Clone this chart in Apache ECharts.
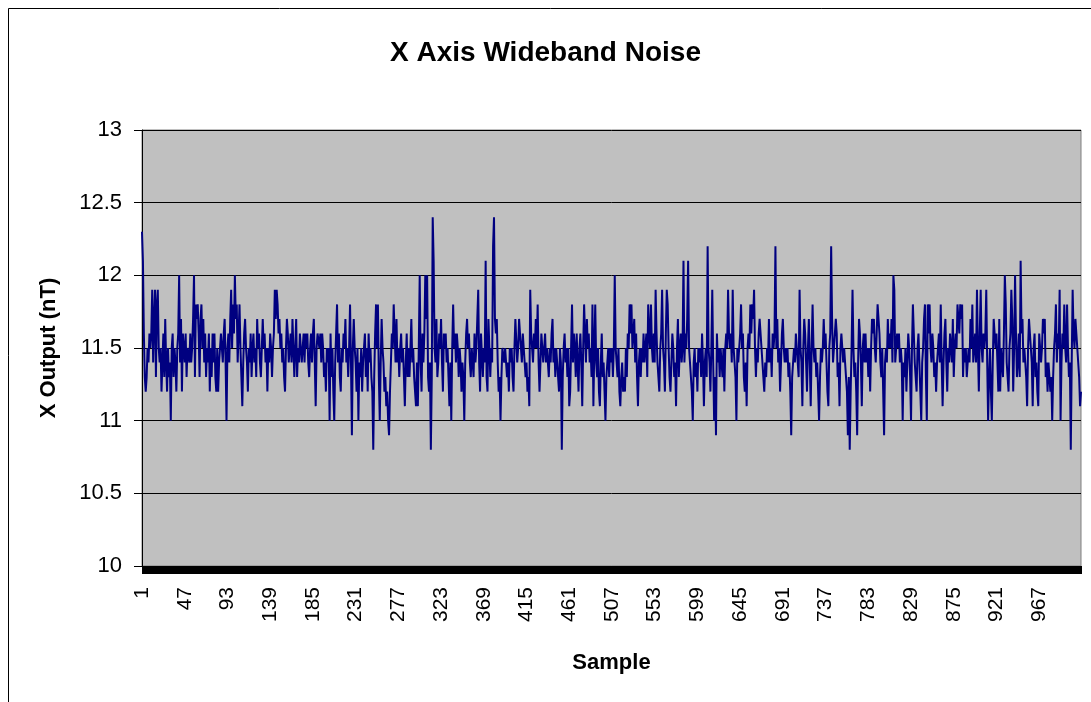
<!DOCTYPE html>
<html>
<head>
<meta charset="utf-8">
<script src="https://cdn.jsdelivr.net/npm/echarts@6/dist/echarts.min.js"></script>
<style>
html,body{margin:0;padding:0;background:#fff;}
#chart{width:1091px;height:702px;}
</style>
</head>
<body>
<div id="chart"></div>
<script>
// X output (nT), samples 1..1012
var seg1 = [12.3,12.1,11.6,11.3,11.2,11.3,11.5,11.4,11.6,11.5,
11.6,11.9,11.4,11.7,11.9,11.3,11.8,11.9,11.5,11.4,
11.5,11.2,11.4,11.6,11.3,11.7,11.4,11.2,11.5,11.3,
11.4,11.0,11.5,11.6,11.3,11.5,11.4,11.2,11.5,11.6,
12.0,11.4,11.7,11.2,11.6,11.5,11.4,11.6,11.3,11.5,
11.5,11.4,11.6,11.4,11.5,11.7,12.0,11.3,11.8,11.7,
11.8,11.6,11.3,11.7,11.8,11.5,11.7,11.4,11.6,11.3,
11.5,11.4,11.6,11.2,11.5,11.3,11.6,11.4,11.6,11.3,
11.2,11.5,11.2,11.4,11.5,11.6,11.5,11.4,11.6,11.7,
11.4,11.0,11.5,11.6,11.4,11.7,11.9,11.5,11.8,11.6];
var seg2 = [12.0,11.7,11.8,11.4,11.6,11.8,11.5,11.3,11.1,11.4,
11.6,11.7,11.5,11.4,11.2,11.5,11.4,11.6,11.3,11.5,
11.6,11.4,11.5,11.3,11.7,11.5,11.6,11.4,11.3,11.5,
11.7,11.5,11.6,11.4,11.5,11.2,11.5,11.4,11.6,11.5,
11.3,11.5,11.6,11.9,11.7,11.9,11.8,11.6,11.7,11.5,
11.6,11.4,11.5,11.3,11.2,11.5,11.7,11.6,11.4,11.5,
11.6,11.4,11.7,11.5,11.3,11.5,11.7,11.3,11.5,11.4,
11.6,11.6,11.4,11.5,11.6,11.4,11.6,11.5,11.6,11.4,
11.3,11.5,11.6,11.4,11.6,11.7,11.4,11.1,11.5,11.6,
11.6,11.5,11.6,11.4,11.6,11.5,11.3,11.4,11.2,11.5];
var seg3 = [11.4,11.5,11.0,11.6,11.3,11.5,11.2,11.0,11.4,11.6,
11.8,11.4,11.6,11.3,11.2,11.5,11.4,11.6,11.5,11.7,
11.4,11.5,11.3,11.5,11.8,11.4,10.9,11.5,11.7,11.5,
11.4,11.2,11.5,11.0,11.4,11.3,11.5,11.2,11.4,11.5,
11.6,11.3,11.5,11.2,11.6,11.4,11.5,11.3,11.2,10.8,
11.3,11.6,11.8,11.5,11.8,11.3,11.0,11.4,11.7,11.5,
11.4,11.2,11.3,11.1,11.2,11.0,10.9,11.2,11.4,11.6,
11.5,11.8,11.6,11.4,11.7,11.4,11.5,11.3,11.5,11.6,
11.4,11.5,11.3,11.1,11.4,11.6,11.3,11.5,11.3,11.5,
11.7,11.4,11.5,11.3,11.2,11.1,11.4,11.1,11.5,12.0];
var seg4 = [11.4,11.2,11.6,11.4,11.6,12.0,11.7,12.0,11.3,11.2,
11.4,10.8,11.3,12.4,12.1,11.5,11.4,11.7,11.3,11.4,
11.6,11.5,11.7,11.4,11.2,11.6,11.5,11.6,11.4,11.5,
11.3,11.1,11.4,11.0,11.5,11.8,11.5,11.6,11.4,11.6,
11.5,11.3,11.5,11.4,11.2,11.4,11.3,11.0,11.4,11.6,
11.7,11.5,11.6,11.4,11.3,11.5,11.4,11.3,11.6,11.4,
11.5,11.7,11.9,11.4,11.2,11.6,11.6,11.3,11.5,11.4,
12.1,11.3,11.2,11.7,11.5,11.3,11.5,11.4,12.2,12.4,
11.7,11.6,11.7,11.4,11.2,11.3,11.0,11.3,11.5,11.5,
11.4,11.5,11.5,11.3,11.4,11.2,11.5,11.4,11.5,11.3];
var seg5 = [11.2,11.5,11.7,11.7,11.4,11.5,11.7,11.6,11.5,11.4,
11.6,11.5,11.4,11.3,11.4,11.2,11.3,11.1,11.9,11.6,
11.5,11.4,11.6,11.5,11.7,11.5,11.8,11.4,11.2,11.4,
11.6,11.5,11.4,11.5,11.6,11.4,11.5,11.4,11.3,11.5,
11.4,11.6,11.7,11.4,11.5,11.3,11.5,11.4,11.3,11.2,
11.5,11.4,10.8,11.3,11.5,11.6,11.4,11.5,11.3,11.5,
11.1,11.2,11.5,11.8,11.4,11.6,11.5,11.3,11.6,11.4,
11.2,11.5,11.6,11.4,11.1,11.5,11.8,11.6,11.4,11.7,
11.5,11.6,11.4,11.5,11.3,11.8,11.1,11.5,11.8,11.4,
11.3,11.5,11.2,11.1,11.4,11.6,11.3,11.4,11.2,11.0];
var seg6 = [11.3,11.4,11.5,11.3,11.5,11.4,11.5,11.3,11.5,12.0,
11.5,11.4,11.3,11.5,11.2,11.1,11.3,11.4,11.2,11.3,
11.2,11.5,11.3,11.6,11.5,11.8,11.6,11.8,11.5,11.6,
11.7,11.4,11.6,11.3,11.1,11.4,11.5,11.3,11.5,11.4,
11.6,11.4,11.5,11.6,11.3,11.8,11.6,11.5,11.8,11.5,
11.4,11.6,11.4,11.9,11.6,11.4,11.3,11.2,11.5,11.6,
11.9,11.5,11.4,11.2,11.6,11.9,11.8,11.5,11.3,11.2,
11.4,11.6,11.5,11.3,11.4,11.1,11.5,11.7,11.3,11.5,
11.6,11.4,11.5,12.1,11.4,11.6,11.5,11.7,12.1,11.5,
11.4,11.3,11.2,11.0,11.4,11.5,11.3,11.4,11.2,11.5];
var seg7 = [11.4,11.5,11.3,11.6,11.4,11.1,11.4,11.5,11.3,12.2,
11.5,11.4,11.2,11.5,11.9,11.4,11.0,11.3,10.9,11.6,
11.4,11.5,11.3,11.5,11.4,11.3,11.5,11.2,11.5,11.6,
11.5,11.9,11.6,11.5,11.6,11.4,11.9,11.5,11.4,11.3,
11.0,11.5,11.4,11.5,11.6,11.8,11.5,11.6,11.3,11.2,
11.4,11.1,11.5,11.6,11.5,11.8,11.6,11.8,11.7,11.9,
11.5,11.3,11.5,11.4,11.6,11.7,11.7,11.5,11.4,11.3,
11.2,11.4,11.3,11.5,11.4,11.7,11.4,11.5,11.3,11.6,
11.5,11.6,12.2,11.5,11.7,11.4,11.5,11.2,11.4,11.6,
11.7,11.5,11.4,11.5,11.4,11.5,11.3,11.4,11.2,10.9];
var seg8 = [11.3,11.4,11.5,11.4,11.6,11.6,11.4,11.3,11.9,11.5,
11.4,11.1,11.5,11.7,11.6,11.4,11.2,11.5,11.7,11.4,
11.1,11.5,11.8,11.5,11.4,11.5,11.3,11.4,11.2,11.0,
11.3,11.5,11.4,11.5,11.7,11.5,11.6,11.4,11.2,11.1,
11.5,11.6,12.2,11.7,11.4,11.5,11.6,11.7,11.6,11.3,
11.4,11.1,11.5,11.6,11.6,11.4,11.5,11.4,11.3,11.2,
10.9,11.3,10.8,11.2,11.5,11.9,11.5,11.3,11.4,11.2,
10.9,11.4,11.7,11.6,11.4,11.1,11.5,11.6,11.4,11.6,
11.4,11.5,11.3,11.5,11.2,11.5,11.7,11.6,11.7,11.5,
11.4,11.6,11.8,11.7,11.6,11.4,11.3,11.5,11.2,10.9];
var seg9 = [11.4,11.5,11.4,11.7,11.5,11.6,11.5,11.7,11.4,12.0,
11.9,11.4,11.5,11.6,11.5,11.6,11.4,11.5,11.4,11.0,
11.4,11.3,11.5,11.2,11.4,11.6,11.5,11.3,11.0,11.5,
11.8,11.6,11.4,11.3,11.2,11.5,11.6,11.4,11.2,11.0,
11.4,11.5,11.7,11.8,11.3,11.0,11.8,11.6,11.8,11.5,
11.4,11.6,11.5,11.3,11.4,11.2,11.4,11.5,11.6,11.4,
11.8,11.4,11.1,11.4,11.6,11.7,11.4,11.2,11.5,11.4,
11.6,11.5,11.4,11.7,11.3,11.5,11.6,11.5,11.8,11.8,
11.6,11.8,11.7,11.8,11.3,11.5,11.4,11.5,11.3,11.4,
11.5,11.4,11.7,11.5,11.8,11.4,11.5,11.6,11.4,11.9];
var seg10 = [11.5,11.2,11.6,11.9,11.5,11.4,11.6,11.5,11.6,11.9,
11.4,11.0,11.3,11.5,11.2,11.0,11.4,11.7,11.6,11.5,
11.6,11.4,11.2,11.7,11.2,11.5,11.4,11.3,11.6,12.0,
11.8,11.4,11.3,11.2,11.5,11.6,11.9,11.7,11.2,11.5,
12.0,11.6,11.3,11.4,11.6,11.3,12.1,11.6,11.7,11.4,
11.5,11.4,11.3,11.1,11.5,11.7,11.7,11.5,11.4,11.1,
11.5,11.6,11.3,11.4,11.2,11.1,11.6,11.5,11.4,11.5,
11.7,11.6,11.7,11.3,11.4,11.2,11.4,11.3,11.2,11.3,
11.0,11.3,11.5,11.6,11.8,11.4,11.6,11.5,11.9,11.0,
11.4,11.6,11.5,11.8,11.5,11.4,11.8,11.5,11.3,11.4];
var seg11 = [10.8,11.4,11.9,11.6,11.5,11.7,11.6,11.5,11.4,11.3,
11.1,11.2];

var values = [].concat(seg1, seg2, seg3, seg4, seg5, seg6, seg7, seg8, seg9, seg10, seg11);
var categories = values.map(function (v, i) { return String(i + 1); });
var yTicks = [10, 10.5, 11, 11.5, 12, 12.5, 13];

var chart = echarts.init(document.getElementById('chart'), null, {renderer: 'canvas'});
var font = '"Liberation Sans", Arial, sans-serif';
chart.setOption({
  animation: false,
  backgroundColor: '#ffffff',
  title: {
    text: 'X Axis Wideband Noise',
    left: 'center',
    top: 34,
    textStyle: {fontFamily: font, fontSize: 28, fontWeight: 'bold', color: '#000'}
  },
  graphic: [{
    type: 'rect',
    shape: {x: 8.5, y: 8.5, width: 1100, height: 720},
    style: {fill: 'none', stroke: '#000', lineWidth: 1},
    silent: true, z: -10
  }],
  grid: {
    left: 142, top: 130, right: 10, bottom: 136,
    show: true, backgroundColor: '#C0C0C0', borderColor: '#808080', borderWidth: 1
  },
  xAxis: {
    type: 'category',
    data: categories,
    boundaryGap: false,
    name: 'Sample',
    nameLocation: 'middle',
    nameGap: 86,
    nameTextStyle: {fontFamily: font, fontSize: 22, fontWeight: 'bold', color: '#000'},
    axisLine: {show: true, lineStyle: {color: '#000', width: 1}},
    axisTick: {show: true, interval: 0, length: 8, lineStyle: {color: '#000', width: 1}},
    axisLabel: {interval: 45, rotate: 90, margin: 21, fontFamily: font, fontSize: 21, color: '#000'},
    splitLine: {show: false}
  },
  yAxis: {
    type: 'value',
    min: yTicks[0], max: yTicks[yTicks.length - 1], interval: 0.5,
    name: 'X Output (nT)',
    nameLocation: 'middle',
    nameGap: 82,
    nameTextStyle: {fontFamily: font, fontSize: 22, fontWeight: 'bold', color: '#000'},
    axisLine: {show: true, lineStyle: {color: '#000', width: 1}},
    axisTick: {show: true, length: 8, lineStyle: {color: '#000', width: 1}},
    axisLabel: {margin: 20, fontFamily: font, fontSize: 22, color: '#000'},
    splitLine: {show: true, lineStyle: {color: '#000', width: 1}}
  },
  series: [{
    type: 'line',
    data: values,
    symbol: 'none',
    lineStyle: {color: '#000080', width: 2},
    itemStyle: {color: '#000080'}
  }]
});
</script>
</body>
</html>
